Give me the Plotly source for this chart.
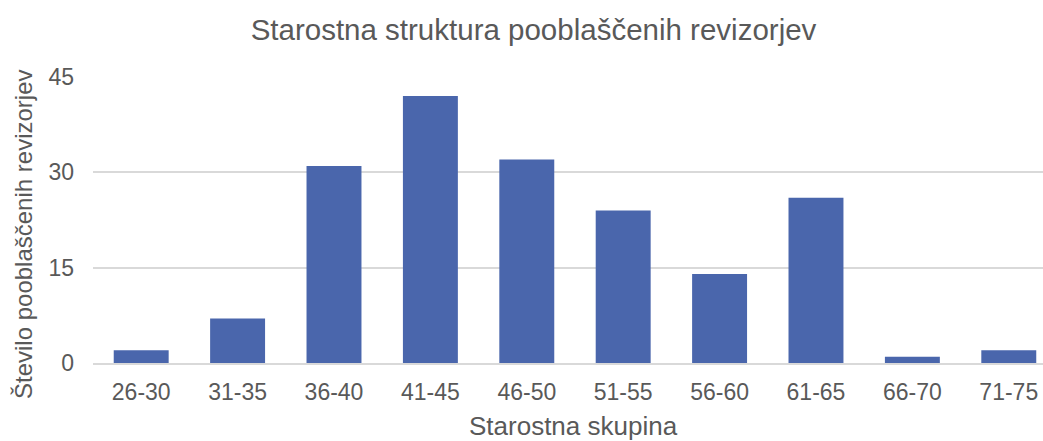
import plotly.graph_objects as go

categories = ["26-30", "31-35", "36-40", "41-45", "46-50", "51-55", "56-60", "61-65", "66-70", "71-75"]
counts = [2, 7, 31, 42, 32, 24, 14, 26, 1, 2]
y_ticks = [0, 15, 30, 45]

txt = "#595959"
font = "Liberation Sans, Arial, sans-serif"

fig = go.Figure(go.Bar(x=categories, y=counts, marker=dict(color="#4A66AC", line=dict(width=0)),
                       hoverinfo="skip"))

fig.update_layout(
    width=1043, height=441,
    margin=dict(l=93, r=0, t=77, b=78, autoexpand=False),
    paper_bgcolor="white", plot_bgcolor="white",
    bargap=0.43,
    font=dict(family=font, color=txt, size=23),
    title=dict(text="Starostna struktura pooblaščenih revizorjev", x=533.5 / 1043, xanchor="center",
               xref="container", y=1 - 30 / 441, yref="container", yanchor="middle",
               font=dict(size=29.5, color=txt)),
    showlegend=False,
    annotations=[
        dict(text="Starostna skupina", xref="paper", yref="paper", x=0.506, y=-0.221,
             xanchor="center", yanchor="middle", showarrow=False, font=dict(size=26, color=txt)),
        dict(text="Število pooblaščenih revizorjev", xref="paper", yref="paper", x=-0.0737, y=0.451,
             xanchor="center", yanchor="middle", textangle=-90, showarrow=False,
             font=dict(size=24, color=txt)),
    ],
)
fig.update_xaxes(
    range=[-0.5, 9.355],
    showgrid=False, showline=True, linecolor="#D9D9D9", linewidth=1.5,
    tickfont=dict(size=23, color=txt), ticks="", ticklabelstandoff=8,
)
fig.update_yaxes(
    range=[0, 45], tickvals=y_ticks, showgrid=True, gridcolor="#D9D9D9", gridwidth=1.5,
    zeroline=False, tickfont=dict(size=23, color=txt), ticks="", ticklabelstandoff=18,
)

# remove the browser's default 8px body margin so the figure fills the window exactly
fig.write_html("out.html", config={"displayModeBar": False},
               post_script="document.body.style.margin='0';document.body.style.overflow='hidden';")
